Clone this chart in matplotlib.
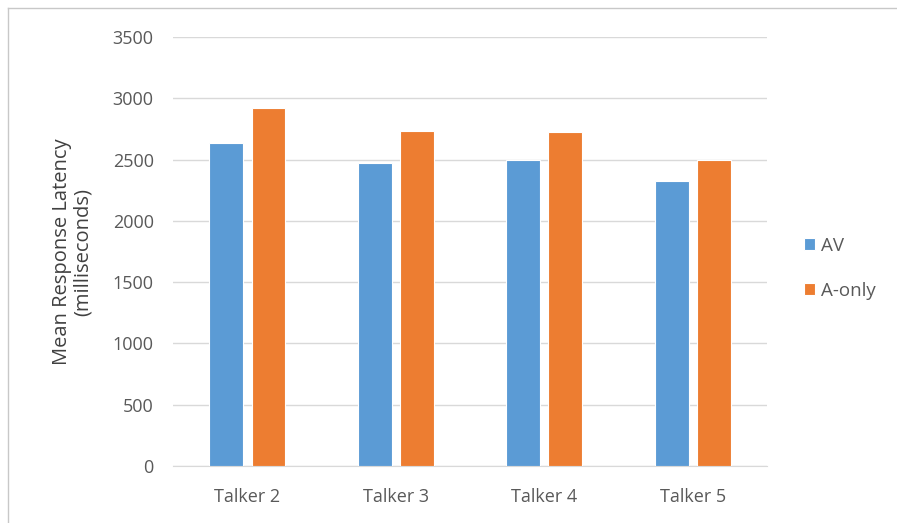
import matplotlib.pyplot as plt
import numpy as np
from matplotlib.lines import Line2D

plt.rcParams['font.family'] = ['Open Sans', 'DejaVu Sans']

# mean response latency per talker (ms)
talkers = ['Talker 2', 'Talker 3', 'Talker 4', 'Talker 5']
av = [2633, 2472, 2494, 2325]
a_only = [2921, 2733, 2722, 2494]

fig = plt.figure(figsize=(8.97, 5.23), dpi=100)
ax = fig.add_axes([0.193, 0.109, 0.662, 0.82])

x = np.arange(len(talkers))
w = 0.228
ax.bar(x - 0.142, av, w, color='#5B9BD5', edgecolor='white', linewidth=0.8, label='AV', zorder=3)
ax.bar(x + 0.142, a_only, w, color='#ED7D31', edgecolor='white', linewidth=0.8, label='A-only', zorder=3)

ax.set_xlim(-0.5, len(talkers) - 0.5)
ax.set_ylim(0, 3500)
ax.set_yticks(range(0, 3501, 500))
ax.set_xticks(x)
ax.set_xticklabels(talkers)

# light horizontal grid, no frame except the baseline
ax.grid(axis='y', color='#d9d9d9', linewidth=1, zorder=0)
for s in ['top', 'right', 'left']:
    ax.spines[s].set_visible(False)
ax.spines['bottom'].set_color('#d9d9d9')
ax.tick_params(length=0, labelsize=13, labelcolor='#595959')
ax.tick_params(axis='y', pad=14)
ax.tick_params(axis='x', pad=16)

ax.set_ylabel('Mean Response Latency\n(milliseconds)', fontsize=14.5, color='#404040',
              labelpad=14, multialignment='center', linespacing=1.05)

fig.legend(loc='center left', bbox_to_anchor=(0.877, 0.487), frameon=False,
           handlelength=0.6, handleheight=0.6, handletextpad=0.35,
           labelspacing=1.45, fontsize=13.5, labelcolor='#595959')

# chart border (only top and left edges fall inside the image)
fig.add_artist(Line2D([0.009, 1.0], [0.985, 0.985], transform=fig.transFigure,
                      color='#c8c8c8', linewidth=1))
fig.add_artist(Line2D([0.009, 0.009], [0.0, 0.985], transform=fig.transFigure,
                      color='#c8c8c8', linewidth=1))

fig.savefig('out.png', dpi=100)
